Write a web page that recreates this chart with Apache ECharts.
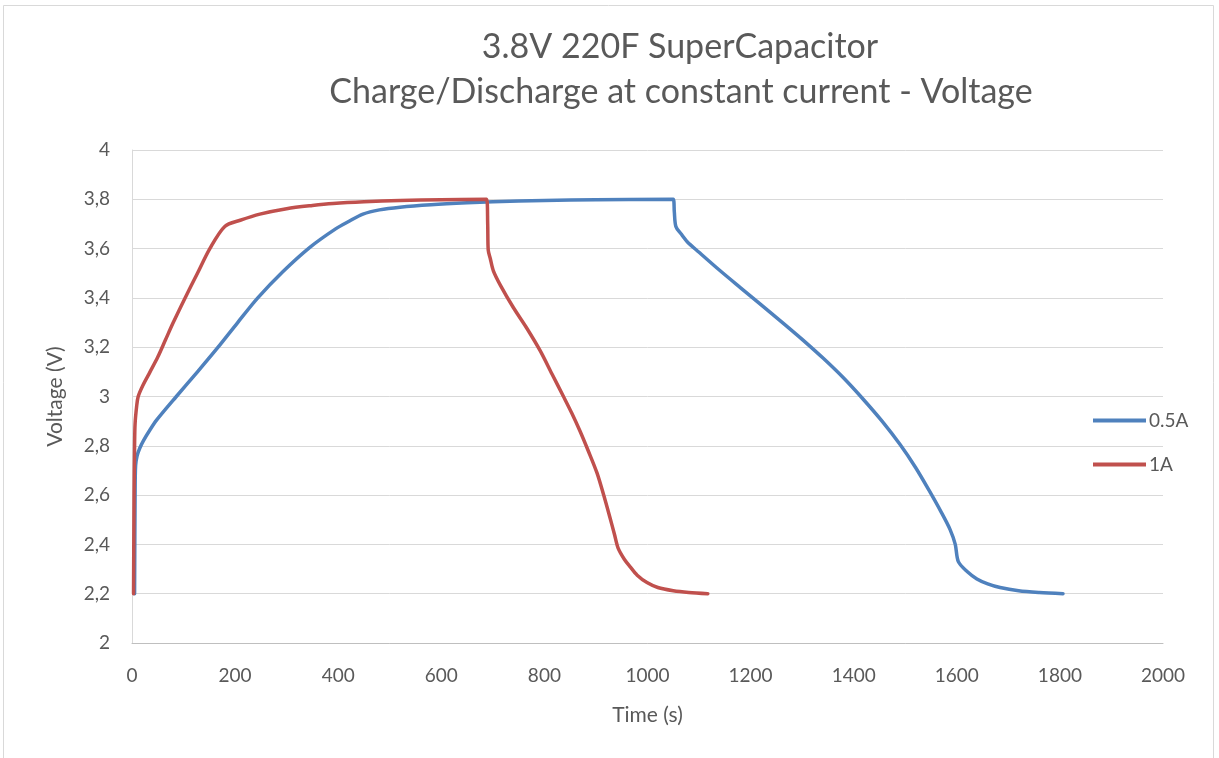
<!DOCTYPE html>
<html>
<head>
<meta charset="utf-8">
<script src="https://cdn.jsdelivr.net/npm/echarts@6/dist/echarts.min.js"></script>
<style>html,body{margin:0;padding:0;background:#fff;}#c{width:1219px;height:758px;}</style>
</head>
<body>
<div id="c"></div>
<script>
const titleLines = ['3.8V 220F SuperCapacitor', 'Charge/Discharge at constant current - Voltage'];
const xAxisTitle = 'Time (s)';
const yAxisTitle = 'Voltage (V)';
const seriesNames = ['0.5A', '1A'];
const xTicks = [0, 200, 400, 600, 800, 1000, 1200, 1400, 1600, 1800, 2000];
const yTickLabels = ['2', '2,2', '2,4', '2,6', '2,8', '3', '3,2', '3,4', '3,6', '3,8', '4'];

// 0.5A series: [time s, voltage V]
const data05A = [[5,2.2],[6,2.6],[7,2.72],[10,2.76],[15,2.79],[22,2.82],[35,2.865],[48,2.905],[86,3.0],[127,3.1],[167,3.2],[205,3.3],[244,3.4],[292,3.505],[345,3.605],[395,3.68],[422,3.712],[448,3.74],[480,3.757],[520,3.768],[580,3.778],[650,3.786],[700,3.79],[800,3.795],[900,3.798],[1050,3.8],[1052,3.75],[1055,3.69],[1065,3.66],[1077,3.628],[1100,3.585],[1141,3.51],[1180,3.442],[1220,3.373],[1263,3.298],[1300,3.232],[1341,3.155],[1380,3.076],[1418,2.99],[1455,2.9],[1490,2.805],[1520,2.712],[1546,2.62],[1570,2.53],[1587,2.46],[1597,2.4],[1603,2.33],[1620,2.29],[1639,2.26],[1660,2.24],[1684,2.225],[1720,2.212],[1760,2.205],[1806,2.2]];
// 1A series: [time s, voltage V]
const data1A = [[3,2.2],[4,2.6],[5,2.8],[6,2.89],[9,2.96],[12,3.0],[21,3.045],[35,3.1],[50,3.16],[65,3.23],[80,3.3],[103,3.4],[127,3.5],[151,3.6],[180,3.69],[210,3.715],[248,3.74],[300,3.762],[350,3.775],[390,3.783],[450,3.79],[520,3.795],[600,3.798],[688,3.8],[690,3.7],[691,3.595],[695,3.56],[701,3.51],[715,3.45],[740,3.36],[765,3.28],[792,3.185],[815,3.09],[837,3.0],[853,2.933],[869,2.86],[885,2.78],[902,2.69],[915,2.6],[927,2.51],[936,2.44],[943,2.385],[955,2.34],[966,2.31],[980,2.275],[999,2.245],[1020,2.225],[1050,2.212],[1080,2.205],[1117,2.2]];

const FONT = 'Lato, "Open Sans", sans-serif';
const GRAY = '#595959';
const chart = echarts.init(document.getElementById('c'), null, {renderer: 'canvas'});
chart.setOption({
  animation: false,
  backgroundColor: '#fff',
  graphic: [
    {type: 'rect', shape: {x: 3.5, y: 5.5, width: 1210, height: 760}, style: {fill: 'none', stroke: '#d9d9d9', lineWidth: 1}, silent: true, z: -1},
    {type: 'text', x: 680, y: 47, style: {text: titleLines[0], font: '34px ' + FONT, fill: GRAY, textAlign: 'center', textVerticalAlign: 'middle'}},
    {type: 'text', x: 681, y: 92, style: {text: titleLines[1], font: '34px ' + FONT, fill: GRAY, textAlign: 'center', textVerticalAlign: 'middle'}}
  ],
  grid: {left: 132, right: 56, top: 150, bottom: 115, containLabel: false},
  legend: {
    orient: 'vertical', left: 1088, top: 406, itemWidth: 53, itemHeight: 14, itemGap: 25,
    data: seriesNames,
    textStyle: {color: GRAY, fontSize: 19, fontFamily: FONT, padding: [0, 0, 0, -2]},
    icon: 'path://M0,6 L53,6 L53,10 L0,10 Z'
  },
  xAxis: {
    type: 'value', min: xTicks[0], max: xTicks[xTicks.length - 1], interval: 200,
    name: xAxisTitle, nameLocation: 'middle', nameGap: 62,
    nameTextStyle: {color: GRAY, fontSize: 21, fontFamily: FONT},
    axisLine: {show: true, lineStyle: {color: '#bfbfbf', width: 1}},
    axisTick: {show: false},
    axisLabel: {color: GRAY, fontSize: 19, fontFamily: FONT, margin: 23,
      formatter: function (v) { return String(xTicks[Math.round(v / 200)]); }},
    splitLine: {show: false}
  },
  yAxis: {
    type: 'value', min: 2, max: 4, interval: 0.2,
    name: yAxisTitle, nameLocation: 'middle', nameGap: 66,
    nameTextStyle: {color: GRAY, fontSize: 21, fontFamily: FONT},
    axisLine: {show: true, lineStyle: {color: '#d9d9d9', width: 1}},
    axisTick: {show: false},
    axisLabel: {color: GRAY, fontSize: 19, fontFamily: FONT, margin: 22,
      formatter: function (v) { return yTickLabels[Math.round((v - 2) / 0.2)]; }},
    splitLine: {show: true, lineStyle: {color: '#d9d9d9', width: 1}}
  },
  series: [
    {name: seriesNames[0], type: 'line', data: data05A, symbol: 'none', smooth: 0.3, lineStyle: {color: '#4F81BD', width: 3.5, cap: 'round', join: 'round'}, itemStyle: {color: '#4F81BD'}},
    {name: seriesNames[1], type: 'line', data: data1A, symbol: 'none', smooth: 0.3, lineStyle: {color: '#C0504D', width: 3.5, cap: 'round', join: 'round'}, itemStyle: {color: '#C0504D'}}
  ]
});
</script>
</body>
</html>
